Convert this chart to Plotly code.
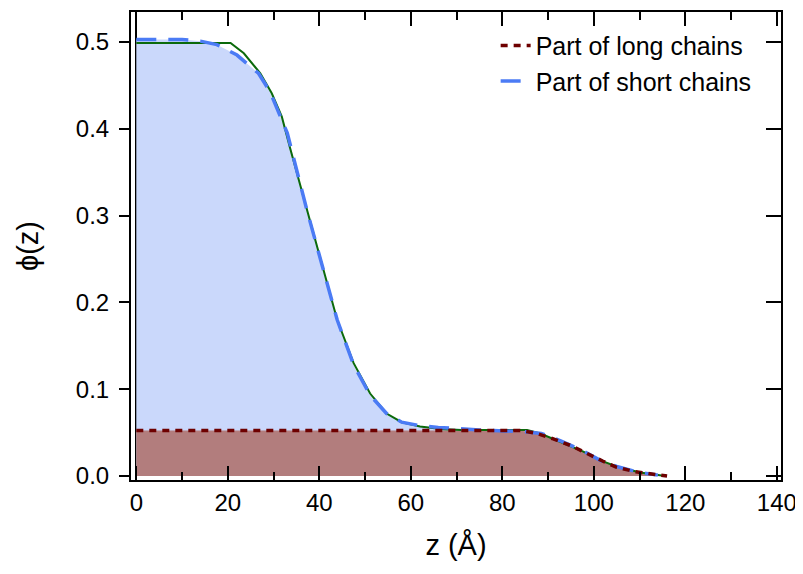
"""Volume fraction profile phi(z) of a bimodal brush, redrawn with Plotly."""

import plotly.graph_objects as go

# total profile (solid green)
z_total = [0, 20.6, 23.5, 27.1, 29.6, 31.8, 33.6, 37.3, 41.4, 43.9, 47.5, 51.1,
           54.7, 58.0, 62.0, 67.0, 71.0, 85.4, 88.3, 94.1, 97.7, 101.4, 105.0,
           110.1, 115.6]
phi_total = [0.499, 0.499, 0.487, 0.464, 0.441, 0.414, 0.378, 0.306, 0.226,
             0.180, 0.130, 0.095, 0.072, 0.062, 0.057, 0.054, 0.053, 0.053,
             0.049, 0.036, 0.028, 0.018, 0.011, 0.004, 0.0]

# part of short chains (stacked on top, blue dashed)
z_short = [0, 10, 14, 17.6, 22, 26.7, 29.2, 33, 37.3, 41.4, 43.9, 47.5, 51.1,
           54.7, 58, 62, 66, 75, 85, 88.5, 93, 98, 101.4, 105, 110, 114]
phi_short = [0.503, 0.503, 0.501, 0.497, 0.485, 0.464, 0.443, 0.395, 0.306,
             0.226, 0.180, 0.128, 0.093, 0.072, 0.062, 0.058, 0.056, 0.053,
             0.051, 0.049, 0.040, 0.028, 0.018, 0.011, 0.004, 0.001]

# part of long chains (dark red dotted)
z_long = [0, 84, 87.5, 91, 95, 98, 102, 105, 109, 113, 116]
phi_long = [0.0525, 0.0525, 0.049, 0.043, 0.035, 0.027, 0.017, 0.010, 0.005,
            0.002, 0.0]

x_ticks = [0, 20, 40, 60, 80, 100, 120, 140]
y_ticks = [0.0, 0.1, 0.2, 0.3, 0.4, 0.5]

FONT = "Liberation Sans, Arial, sans-serif"
X_RANGE = [-1.16, 140.9]
Y_RANGE = [-0.0046, 0.5346]

fig = go.Figure()

# filled areas
fig.add_trace(go.Scatter(
    x=z_short, y=phi_short, mode="none", fill="tozeroy",
    fillcolor="#cad8fb", showlegend=False, hoverinfo="skip",
))
fig.add_trace(go.Scatter(
    x=z_long, y=phi_long, mode="none", fill="tozeroy",
    fillcolor="#b27d7d", showlegend=False, hoverinfo="skip",
))

# lines: total, short chains, then long chains on top
fig.add_trace(go.Scatter(
    x=z_total, y=phi_total, mode="lines", showlegend=False,
    line=dict(color="#0b6a0b", width=2),
))
fig.add_trace(go.Scatter(
    x=z_short, y=phi_short, mode="lines", name="Part of short chains",
    line=dict(color="#4b7bf5", width=3.5, dash="20px,12px"),
))
fig.add_trace(go.Scatter(
    x=z_long, y=phi_long, mode="lines", name="Part of long chains",
    line=dict(color="#6e0000", width=3.5, dash="7px,6px"),
))

# invisible trace to hold the right-hand axis
fig.add_trace(go.Scatter(
    x=[0], y=[0], yaxis="y2", mode="none", showlegend=False, hoverinfo="skip",
))

# page body has an 8px margin, so the figure is 8px smaller and shifted
fig.update_layout(
    width=795,
    height=566,
    margin=dict(l=123, r=22, t=4, b=94, autoexpand=False),
    plot_bgcolor="white",
    paper_bgcolor="white",
    font=dict(family=FONT, size=24, color="black"),
    legend=dict(
        x=0.561, y=0.977, xanchor="left", yanchor="top",
        bgcolor="rgba(0,0,0,0)", font=dict(size=25),
        traceorder="reversed",
    ),
    xaxis=dict(
        range=X_RANGE, tickvals=x_ticks, ticks="inside", ticklen=14,
        tickwidth=2, tickcolor="black", mirror="ticks", showline=True,
        linecolor="black", linewidth=2, showgrid=False, automargin=False,
        zeroline=True, zerolinecolor="black", zerolinewidth=2,
        minor=dict(dtick=10, ticks="inside", ticklen=8, tickwidth=2,
                   tickcolor="black", showgrid=False),
        title=dict(text="z (Å)", standoff=20),
    ),
    yaxis=dict(
        range=Y_RANGE, tickvals=y_ticks, ticktext=[f"{v:.1f}" for v in y_ticks],
        ticks="outside", ticklen=10, tickwidth=2, tickcolor="black",
        ticklabelstandoff=5,
        showline=True, linecolor="black", linewidth=2, showgrid=False,
        zeroline=False, automargin=False,
        title=dict(text="ϕ(z)", standoff=29),
    ),
    yaxis2=dict(
        range=Y_RANGE, overlaying="y", side="right", tickvals=y_ticks,
        ticks="inside", ticklen=15, tickwidth=2, tickcolor="black",
        showticklabels=False, showline=True, linecolor="black", linewidth=2,
        showgrid=False, zeroline=False, automargin=False,
    ),
)

fig.write_html("out.html")
